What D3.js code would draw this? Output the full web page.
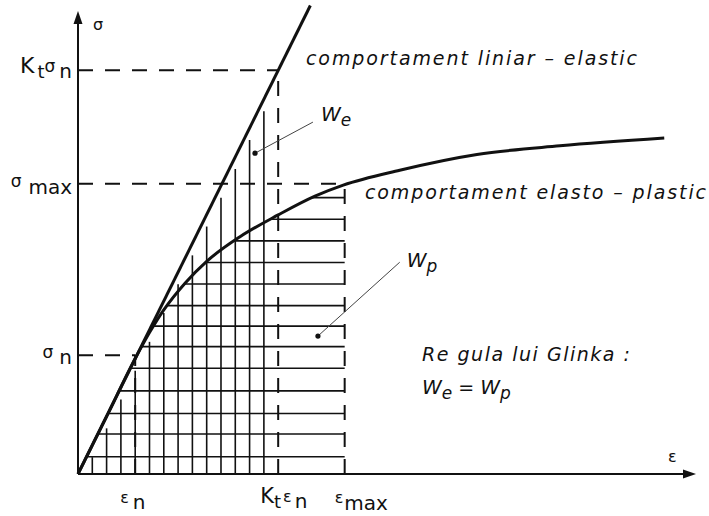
<!DOCTYPE html>
<html>
<head>
<meta charset="utf-8">
<script src="https://cdn.jsdelivr.net/npm/d3@7"></script>
<style>
  body { margin: 0; background: #fff; }
  svg { display: block; }
  text { font-family: "DejaVu Sans", Verdana, sans-serif; fill: #111; }
</style>
</head>
<body>
<svg width="709" height="516"></svg>
<script>
/* data: strain (eps) and stress (sigma) in drawing units */

var strainNames = ["εn", "Ktεn", "εmax"];
var strainValues = [4, 14, 18.65];

var stressNames = ["σn", "Ktσn", "σmax"];
var stressValues = [5.5, 18.7, 13.45];

// comportament liniar - elastic
var elasticStrain = [0, 16.25];
var elasticStress = [0, 21.7];

// comportament elasto - plastic
var curveStrain = [0, 2, 4, 5, 6, 7.5, 9, 11.33, 14, 16.57, 18.55, 22.5, 27.9, 33.7, 41];
var curveStress = [0, 2.67, 5.35, 6.55, 7.6, 8.85, 9.85, 10.99, 12.0, 12.87, 13.38, 14.07, 14.8, 15.2, 15.56];

// hatching
var vHatch = [1, 2, 3, 4, 5, 6, 7, 8, 9, 10, 11, 12, 13];
var hHatch = [0.8, 1.85, 2.8, 3.85, 4.9, 5.9, 6.85, 7.8, 8.8, 9.8, 10.8, 11.8, 12.8];

// leader lines for We / Wp  [dot, end]
var weLeader = [[12.38, 14.86], [16.43, 16.3]];
var wpLeader = [[16.78, 6.39], [22.5, 9.81]];

/* SECTION: scales */

var svg = d3.select("svg");
var x = d3.scaleLinear().domain([0, 43.5]).range([78, 700]);
var y = d3.scaleLinear().domain([0, 21.4]).range([474, 12]);

var ink = "#111";
var slope = elasticStress[1] / elasticStrain[1];

/* SECTION: hatching */

var clip = svg.append("clipPath").attr("id", "underCurve");
clip.append("path")
    .attr("d", d3.area()
        .x(function(d, i) { return x(curveStrain[i]); })
        .y0(y(0))
        .y1(function(d, i) { return y(curveStress[i]); })
        .curve(d3.curveMonotoneX)(curveStrain));

svg.append("g").attr("clip-path", "url(#underCurve)")
  .selectAll("line").data(hHatch).enter().append("line")
    .attr("x1", x(0)).attr("x2", x(strainValues[2]))
    .attr("y1", function(d) { return y(d); })
    .attr("y2", function(d) { return y(d); })
    .attr("stroke", ink).attr("stroke-width", 1.6);

svg.append("g").selectAll("line").data(vHatch).enter().append("line")
    .attr("x1", function(d) { return x(d); })
    .attr("x2", function(d) { return x(d); })
    .attr("y1", y(0))
    .attr("y2", function(d) { return y(slope * d) + 12; })
    .attr("stroke", ink).attr("stroke-width", 1.6);

/* SECTION: dashed guides */

var dash = svg.append("g")
    .attr("stroke", ink).attr("stroke-width", 2).attr("stroke-dasharray", "15,12");

var hPts = [[strainValues[0], stressValues[0]], [strainValues[1], stressValues[1]], [strainValues[2], stressValues[2]]];
dash.selectAll("line.h").data(hPts).enter().append("line").attr("class", "h")
    .attr("x1", x(0)).attr("x2", function(d) { return x(d[0]); })
    .attr("y1", function(d) { return y(d[1]); })
    .attr("y2", function(d) { return y(d[1]); });

dash.selectAll("line.v").data(hPts).enter().append("line").attr("class", "v")
    .attr("x1", function(d) { return x(d[0]); })
    .attr("x2", function(d) { return x(d[0]); })
    .attr("y1", y(0)).attr("y2", function(d) { return y(d[1]); });

/* SECTION: curves */

svg.append("path")
    .attr("d", d3.line()
        .x(function(d, i) { return x(curveStrain[i]); })
        .y(function(d, i) { return y(curveStress[i]); })
        .curve(d3.curveMonotoneX)(curveStrain))
    .attr("fill", "none").attr("stroke", ink).attr("stroke-width", 3);

svg.append("line")
    .attr("x1", x(elasticStrain[0])).attr("y1", y(elasticStress[0]))
    .attr("x2", x(elasticStrain[1])).attr("y2", y(elasticStress[1]))
    .attr("stroke", ink).attr("stroke-width", 3);

/* SECTION: axes */

svg.append("line")
    .attr("x1", x(0)).attr("y1", y(0)).attr("x2", x(0)).attr("y2", 22)
    .attr("stroke", ink).attr("stroke-width", 2);
svg.append("line")
    .attr("x1", x(0)).attr("y1", y(0)).attr("x2", 686).attr("y2", y(0))
    .attr("stroke", ink).attr("stroke-width", 2);
svg.append("path").attr("d", "M" + x(0) + ",11L" + (x(0) - 4.5) + ",24L" + (x(0) + 4.5) + ",24Z").attr("fill", ink);
svg.append("path").attr("d", "M696," + y(0) + "L683," + (y(0) - 4.5) + "L683," + (y(0) + 4.5) + "Z").attr("fill", ink);

svg.append("text").attr("x", x(0) + 15).attr("y", 30).style("font-size", "16px").text("σ");
svg.append("text").attr("x", 668).attr("y", 462).style("font-size", "16px").text("ε");

/* SECTION: axis labels */

// parts: [text, size, dy, dx]
function subLabel(sel, parts) {
  parts.forEach(function(p) {
    sel.append("tspan").style("font-size", p[1] + "px")
        .attr("dy", p[2]).attr("dx", p[3] || 0).text(p[0]);
  });
}

var stressParts = [
  [["σ", 17, 0], ["n", 20, 6, 6]],
  [["K", 22, 0], ["t", 18, 5, 3], ["σ", 17, -6], ["n", 20, 6, 4]],
  [["σ", 17, 0], ["max", 20, 7, 7]]
];
stressValues.forEach(function(v, i) {
  var t = svg.append("text").attr("x", x(0) - 6).attr("y", y(v) + 3)
      .attr("text-anchor", "end");
  subLabel(t, stressParts[i]);
});

var strainParts = [
  [["ε", 16, 0], ["n", 20, 6, 4]],
  [["K", 21, 0], ["t", 18, 5], ["ε", 16, -6, 2], ["n", 20, 6, 3]],
  [["ε", 16, 0], ["max", 20, 7, 1]]
];
var strainDx = [-15, -18, -10];
strainValues.forEach(function(v, i) {
  var t = svg.append("text").attr("x", x(v) + strainDx[i]).attr("y", 503);
  subLabel(t, strainParts[i]);
});

/* SECTION: annotations */

function leader(pts) {
  svg.append("line")
      .attr("x1", x(pts[0][0])).attr("y1", y(pts[0][1]))
      .attr("x2", x(pts[1][0])).attr("y2", y(pts[1][1]))
      .attr("stroke", "#444").attr("stroke-width", 1);
  svg.append("circle").attr("cx", x(pts[0][0])).attr("cy", y(pts[0][1]))
      .attr("r", 2.6).attr("fill", ink);
}
leader(weLeader);
leader(wpLeader);

function wLabel(px, py, sub) {
  var t = svg.append("text").attr("x", px).attr("y", py).style("font-style", "italic");
  subLabel(t, [["W", 20, 0], [sub, 17, 5]]);
  return t;
}
wLabel(x(weLeader[1][0]) + 8, y(weLeader[1][1]) - 1, "e");
wLabel(x(wpLeader[1][0]) + 7, y(wpLeader[1][1]) + 5, "p");

svg.append("text").attr("x", 306).attr("y", 65)
    .style("font-style", "italic").style("font-size", "19px")
    .attr("textLength", 331).attr("lengthAdjust", "spacing")
    .text("comportament liniar – elastic");

svg.append("text").attr("x", 365).attr("y", 199)
    .style("font-style", "italic").style("font-size", "19px")
    .attr("textLength", 341).attr("lengthAdjust", "spacing")
    .text("comportament elasto – plastic");

svg.append("text").attr("x", 422).attr("y", 361)
    .style("font-style", "italic").style("font-size", "19px")
    .attr("textLength", 208).attr("lengthAdjust", "spacing")
    .text("Re gula lui  Glinka :");

var eq = svg.append("text").attr("x", 422).attr("y", 394).style("font-style", "italic");
subLabel(eq, [["W", 20, 0], ["e", 17, 5], [" = ", 19, -5], ["W", 20, 0], ["p", 17, 5]]);
</script>
</body>
</html>
